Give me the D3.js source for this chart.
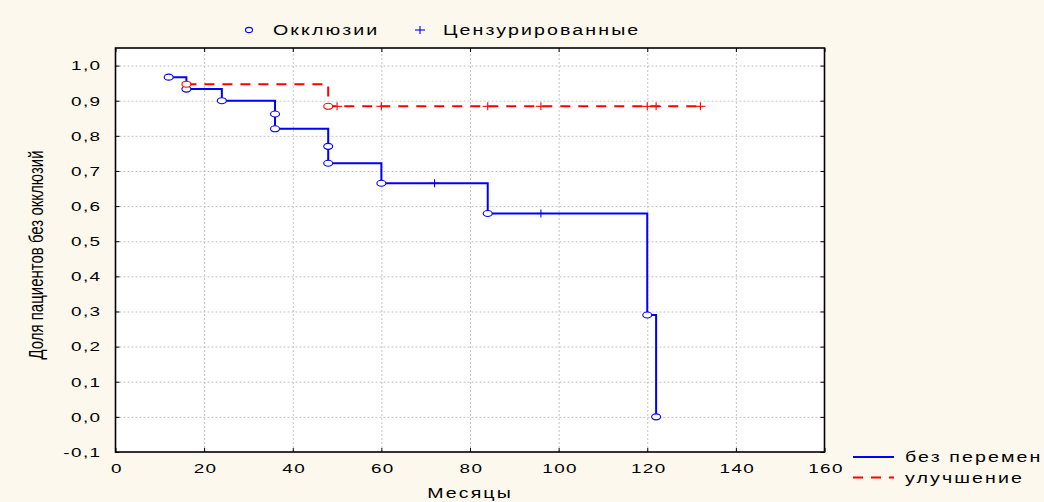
<!DOCTYPE html>
<html>
<head>
<meta charset="utf-8">
<script src="https://cdn.jsdelivr.net/npm/d3@7"></script>
<style>
body { margin: 0; background: #fdf8ed; }
svg { display: block; font-family: "Liberation Sans", Arial, sans-serif; }
</style>
</head>
<body>
<div class="km-plot"></div>
<script>
// группа "без перемен": моменты окклюзий и доля без окклюзий после них
const bezTime = [12, 16, 24, 36, 36, 48, 48, 60, 84, 120, 122];
const bezSurv = [0.967, 0.933, 0.9, 0.862, 0.82, 0.77, 0.722, 0.665, 0.579, 0.29, 0.0];
const bezCensored = [72, 96];

// группа "улучшение"
const ulTime = [16, 48];
const ulSurv = [0.947, 0.884];
const ulCensored = [50, 60, 84, 96, 120, 122, 132];

const xTicks = [0, 20, 40, 60, 80, 100, 120, 140, 160];
const yTicks = [-0.1, 0, 0.1, 0.2, 0.3, 0.4, 0.5, 0.6, 0.7, 0.8, 0.9, 1.0];
const seriesNames = ['без перемен', 'улучшение'];
const markerNames = ['Окклюзии', 'Цензурированные'];
const xTitle = 'Месяцы';
const yTitle = 'Доля пациентов без окклюзий';

const SX = 1.4; // text in the original is stretched sideways
const width = 1044;
const height = 502;
const plot = {left: 115.5, right: 824.5, top: 48, bottom: 452};

const svg = d3.select('.km-plot')
	.append('svg')
	.attr('width', width)
	.attr('height', height);

const x = d3.scaleLinear().domain([0, 160]).range([plot.left, plot.right]);
const y = d3.scaleLinear().domain([-0.1, 1.05]).range([plot.bottom, plot.top]);

function stretchText(parent, px, py, str, size, anchor) {
	return parent.append('text')
		.attr('transform', `translate(${px},${py}) scale(${SX},1)`)
		.attr('text-anchor', anchor)
		.attr('font-size', size)
		.attr('letter-spacing', 1.5)
		.attr('fill', '#000')
		.text(str);
}

// survival value at time t (last event not later than t)
function survAt(times, surv, t) {
	let s = 1;
	times.forEach(function(tt, i) { if (tt <= t) s = surv[i]; });
	return s;
}

function stepPoints(times, surv, censored) {
	let pts = [[times[0], surv[0]]];
	for (let i = 1; i < times.length; i++) {
		pts.push([times[i], surv[i - 1]]);
		pts.push([times[i], surv[i]]);
	}
	let lastCens = d3.max(censored);
	if (lastCens > times[times.length - 1]) {
		pts.push([lastCens, surv[surv.length - 1]]);
	}
	return pts;
}

function makeChart() {
	// plot background
	svg.append('rect')
		.attr('x', plot.left).attr('y', plot.top)
		.attr('width', plot.right - plot.left)
		.attr('height', plot.bottom - plot.top)
		.attr('fill', '#fff');

	// grid
	let gx = svg.append('g')
		.attr('transform', `translate(0,${plot.bottom})`)
		.call(d3.axisBottom(x).tickValues(xTicks.slice(1, -1))
			.tickSize(-(plot.bottom - plot.top)).tickFormat(''));
	let gy = svg.append('g')
		.attr('transform', `translate(${plot.left},0)`)
		.call(d3.axisLeft(y).tickValues(yTicks.slice(1))
			.tickSize(-(plot.right - plot.left)).tickFormat(''));
	[gx, gy].forEach(function(g) {
		g.select('.domain').remove();
		g.selectAll('line')
			.attr('stroke', '#c4c4c4')
			.attr('stroke-dasharray', '2,2');
	});

	// frame ticks
	let bottomAxis = svg.append('g')
		.attr('transform', `translate(0,${plot.bottom})`)
		.call(d3.axisBottom(x).tickValues(xTicks).tickSizeInner(-4).tickSizeOuter(0)
			.tickFormat(d3.format('d')));
	let leftAxis = svg.append('g')
		.attr('transform', `translate(${plot.left},0)`)
		.call(d3.axisLeft(y).tickValues(yTicks).tickSizeInner(-4).tickSizeOuter(0)
			.tickFormat(function(d) {
				return d3.format('.1f')(d).replace('.', ',').replace('\u2212', '-');
			}));
	let topAxis = svg.append('g')
		.attr('transform', `translate(0,${plot.top})`)
		.call(d3.axisTop(x).tickValues(xTicks).tickSizeInner(-4).tickSizeOuter(0).tickFormat(''));
	let rightAxis = svg.append('g')
		.attr('transform', `translate(${plot.right},0)`)
		.call(d3.axisRight(y).tickValues(yTicks).tickSizeInner(-4).tickSizeOuter(0).tickFormat(''));
	[bottomAxis, leftAxis, topAxis, rightAxis].forEach(function(g) {
		g.select('.domain').remove();
		g.selectAll('line').attr('stroke', '#000');
		g.attr('font-family', null);
	});

	bottomAxis.selectAll('text')
		.attr('y', null).attr('dy', '0.71em')
		.attr('transform', `translate(1,11) scale(${SX},1)`)
		.attr('font-size', 13.5)
		.attr('letter-spacing', 1)
		.attr('fill', '#000');
	leftAxis.selectAll('text')
		.attr('x', null)
		.attr('transform', `translate(-14,0) scale(${SX},1)`)
		.attr('font-size', 13.5)
		.attr('letter-spacing', 1)
		.attr('fill', '#000');

	// frame
	svg.append('rect')
		.attr('x', plot.left).attr('y', plot.top)
		.attr('width', plot.right - plot.left)
		.attr('height', plot.bottom - plot.top)
		.attr('fill', 'none')
		.attr('stroke', '#000')
		.attr('stroke-width', 1.6);

	let line = d3.line()
		.x(function(d) { return x(d[0]); })
		.y(function(d) { return y(d[1]); });

	let groups = [
		{time: bezTime, surv: bezSurv, cens: bezCensored, color: '#0000ff', dash: null},
		{time: ulTime, surv: ulSurv, cens: ulCensored, color: '#ff0000', dash: '10,8'}
	];

	groups.forEach(function(s) {
		svg.append('path')
			.attr('d', line(stepPoints(s.time, s.surv, s.cens)))
			.attr('fill', 'none')
			.attr('stroke', s.color)
			.attr('stroke-width', 2)
			.attr('stroke-dasharray', s.dash);

		svg.selectAll(null)
			.data(s.time)
			.enter()
			.append('ellipse')
			.attr('cx', function(d) { return x(d); })
			.attr('cy', function(d, i) { return y(s.surv[i]); })
			.attr('rx', 4.5)
			.attr('ry', 3)
			.attr('fill', '#fff')
			.attr('stroke', s.color)
			.attr('stroke-width', 1.1);

		let plus = svg.selectAll(null)
			.data(s.cens)
			.enter()
			.append('g')
			.attr('transform', function(d) {
				return `translate(${x(d)},${y(survAt(s.time, s.surv, d))})`;
			});
		plus.append('line').attr('x1', -5).attr('x2', 5).attr('y1', 0).attr('y2', 0)
			.attr('stroke', s.color).attr('stroke-width', 1.1);
		plus.append('line').attr('x1', 0).attr('x2', 0).attr('y1', -4).attr('y2', 4)
			.attr('stroke', s.color).attr('stroke-width', 1.1);
	});

	// top legend (markers)
	svg.append('ellipse')
		.attr('cx', 249).attr('cy', 30).attr('rx', 3.5).attr('ry', 2.6)
		.attr('fill', 'none').attr('stroke', '#0000ff').attr('stroke-width', 1.1);
	stretchText(svg, 273, 35, markerNames[0], 14, 'start');
	svg.append('line').attr('x1', 415).attr('x2', 425).attr('y1', 30).attr('y2', 30)
		.attr('stroke', '#0000ff').attr('stroke-width', 1.1);
	svg.append('line').attr('x1', 420).attr('x2', 420).attr('y1', 26).attr('y2', 34)
		.attr('stroke', '#0000ff').attr('stroke-width', 1.1);
	stretchText(svg, 443, 35, markerNames[1], 14, 'start');

	// right legend (groups)
	groups.forEach(function(s, i) {
		let ly = 457 + i * 20.5;
		svg.append('line')
			.attr('x1', 853).attr('x2', 894)
			.attr('y1', ly).attr('y2', ly)
			.attr('stroke', s.color)
			.attr('stroke-width', 2)
			.attr('stroke-dasharray', s.dash);
		stretchText(svg, 905, ly + 5, seriesNames[i], 14, 'start');
	});

	// axis titles
	stretchText(svg, 470, 498, xTitle, 14, 'middle');
	svg.append('text')
		.attr('transform', `translate(43,255) scale(${SX},1) rotate(-90)`)
		.attr('text-anchor', 'middle')
		.attr('font-size', 15)
		.attr('fill', '#000')
		.text(yTitle);
}

makeChart();
</script>
</body>
</html>
